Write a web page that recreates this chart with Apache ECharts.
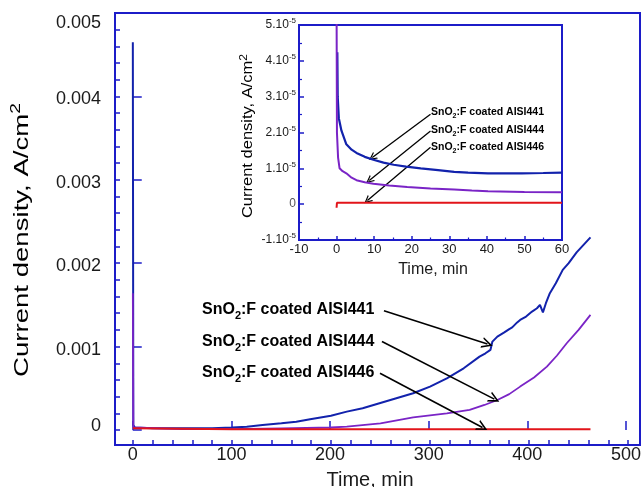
<!DOCTYPE html>
<html>
<head>
<meta charset="utf-8">
<script src="https://cdn.jsdelivr.net/npm/echarts@6/dist/echarts.min.js"></script>
<style>
  html, body { margin: 0; padding: 0; background: #fff; }
  #chart { width: 644px; height: 487px; }
</style>
</head>
<body>
<div id="chart"></div>
<script>
// Potentiostatic current transients, [time (min), current density (A/cm2)]
const main441 = [
  [0, 0.00465], [0.5, 0.00006], [2, 0.00003], [20, 0.00002], [50, 0.00002], [80, 0.00002],
  [100, 0.00003], [115, 0.00004], [131, 0.00006], [150, 0.00008], [165, 0.0001], [179, 0.00013],
  [200, 0.00017], [216, 0.00022], [232, 0.00026], [249, 0.00032], [266, 0.00038], [283, 0.00044],
  [300, 0.00052], [317, 0.00062], [334, 0.00074], [350, 0.00088], [356, 0.00092], [361, 0.00096],
  [363, 0.00106], [368, 0.00112], [375, 0.00117], [380, 0.00121], [383, 0.00123], [388, 0.00129],
  [391, 0.00132], [397, 0.00136], [403, 0.00142], [408, 0.00146], [411, 0.0015], [414, 0.00141],
  [417, 0.00152], [421, 0.00164], [427, 0.00176], [434, 0.00192], [440, 0.002], [448, 0.00213],
  [455, 0.00222], [462, 0.00231]
];
const main444 = [
  [0, 0.00164], [0.5, 0.00003], [2, 0.00001], [50, 0.00001], [100, 0.00001], [150, 0.00002],
  [200, 0.00003], [216, 0.00004], [250, 0.00008], [283, 0.00015], [317, 0.0002], [340, 0.00024],
  [355, 0.0003], [368, 0.00036], [380, 0.00043], [391, 0.00052], [405, 0.00063], [418, 0.00076],
  [428, 0.00089], [438, 0.00104], [450, 0.0012], [462, 0.00138]
];
const main446 = [
  [0, 0.00002], [100, 0.00001], [200, 0.00001], [300, 0.00001], [400, 0.00001], [462, 0.00001]
];

// First hour, enlarged
const inset441 = [
  [0.2, 4.24e-5], [0.3, 3.0e-5], [0.6, 2.4e-5], [1.3, 2.05e-5], [2.6, 1.67e-5], [4, 1.52e-5],
  [5.3, 1.43e-5], [7.5, 1.32e-5], [9.8, 1.24e-5], [12.5, 1.16e-5], [15.2, 1.1e-5], [18.5, 1.05e-5],
  [22.4, 1.0e-5], [27, 0.95e-5], [31.3, 0.9e-5], [35, 0.88e-5], [40.3, 0.86e-5], [45, 0.86e-5],
  [49.3, 0.86e-5], [55, 0.87e-5], [60, 0.88e-5]
];
const inset444 = [
  [0, 5.6e-5], [0.1, 2.0e-5], [0.4, 1.3e-5], [0.8, 1.0e-5], [1.6, 0.92e-5], [2.6, 0.86e-5],
  [4, 0.74e-5], [5.3, 0.67e-5], [7.5, 0.61e-5], [9.8, 0.57e-5], [14, 0.52e-5], [18.8, 0.48e-5],
  [25, 0.44e-5], [31.3, 0.41e-5], [36, 0.38e-5], [40.3, 0.36e-5], [50, 0.34e-5], [60, 0.33e-5]
];
const inset446 = [
  [0, -0.1e-5], [0.1, 0.04e-5], [10, 0.04e-5], [20, 0.04e-5], [30, 0.04e-5], [40, 0.04e-5],
  [50, 0.04e-5], [60, 0.04e-5]
];

// Series names / callouts
const sampleNames = ['AISI441', 'AISI444', 'AISI446'];

// Axis ticks
const mainXLabels = [0, 100, 200, 300, 400, 500];
const mainYLabels = [0, 0.001, 0.002, 0.003, 0.004, 0.005];
const mainXMinor = [];
for (let v = 0; v <= 500; v += 20) mainXMinor.push(v);
const mainYMinor = [];
for (let k = 0; k <= 25; k++) mainYMinor.push(+(k * 0.0002).toFixed(4));

// Callout arrows: [start, tip] in data units
const mainArrows = [
  [[253.5, 0.00143], [358, 0.00103]],
  [[251.5, 0.00106], [365, 0.00037]],
  [[249.5, 0.00068], [353, 0.00003]]
];
const insetArrows = [
  [[25, 2.51e-5], [9.5, 1.3e-5]],
  [[25, 2.04e-5], [8.7, 0.66e-5]],
  [[25, 1.59e-5], [8.2, 0.1e-5]]
];

const FONT = 'Liberation Sans, Arial, Helvetica, sans-serif';
const FRAME = '#1c1cc8';
const C441 = '#1222ac';
const C444 = '#7a24c6';
const C446 = '#e2141a';
const TXT = '#1a1a1a';
const OPEN_ARROW = 'path://M0,10 L5,0 L10,10 L8.4,10 L5,3.2 L1.6,10 Z';

const chart = echarts.init(document.getElementById('chart'), null, { renderer: 'canvas' });

function arrowLines(list) {
  return list.map(a => [{ coord: a[0] }, { coord: a[1] }]);
}

function calloutRich(size) {
  return {
    t: { fontFamily: FONT, fontSize: size, fontWeight: 'bold', color: TXT },
    s: { fontFamily: FONT, fontSize: Math.round(size * 0.7), fontWeight: 'bold', color: TXT, padding: [Math.round(size * 0.75), 0, 0, 0] }
  };
}

function calloutText(name) {
  return '{t|SnO}{s|2}{t|:F coated ' + name + '}';
}

function supLabel(v) {
  const n = Math.round(v / 1e-5);
  if (n === 0) return '0';
  return '{b|' + n + '.10}{p|-5}';
}

function mainYLabel(v) {
  if (Math.abs(v) < 1e-9) return '{z|0}';
  if (v > 0.0049) return '{h|' + v.toFixed(3) + '}';
  return '{n|' + v.toFixed(3) + '}';
}

const mainGrid = { left: 115, top: 13, width: 525, height: 432 };
const insetGrid = { left: 299, top: 25, width: 263, height: 215 };

const graphics = [];
// axis titles
graphics.push({
  type: 'text', x: 22, y: 240, rotation: Math.PI / 2, scaleX: 1.38, z: 10,
  style: {
    text: '{a|Current density, A/cm}{p|2}', textAlign: 'center', textVerticalAlign: 'middle',
    rich: {
      a: { fontFamily: FONT, fontSize: 20, color: TXT },
      p: { fontFamily: FONT, fontSize: 14, color: TXT, padding: [0, 0, 12, 0] }
    }
  }
});
graphics.push({
  type: 'text', x: 370, y: 480, z: 10,
  style: { text: 'Time, min', textAlign: 'center', textVerticalAlign: 'middle', fontFamily: FONT, fontSize: 20, fill: TXT }
});
graphics.push({
  type: 'text', x: 248, y: 136, rotation: Math.PI / 2, scaleX: 1.1, z: 10,
  style: {
    text: '{a|Current density, A/cm}{p|2}', textAlign: 'center', textVerticalAlign: 'middle',
    rich: {
      a: { fontFamily: FONT, fontSize: 15, color: TXT },
      p: { fontFamily: FONT, fontSize: 11, color: TXT, padding: [0, 0, 9, 0] }
    }
  }
});
graphics.push({
  type: 'text', x: 433, y: 270, z: 10,
  style: { text: 'Time, min', textAlign: 'center', textVerticalAlign: 'middle', fontFamily: FONT, fontSize: 16, fill: TXT }
});
// callouts
[310, 342, 373].forEach((y, i) => {
  graphics.push({
    type: 'text', x: 202, y: y, z: 10,
    style: { text: calloutText(sampleNames[i]), textAlign: 'left', textVerticalAlign: 'middle', rich: calloutRich(16) }
  });
});
[112, 130, 147].forEach((y, i) => {
  graphics.push({
    type: 'text', x: 431, y: y, z: 10,
    style: { text: calloutText(sampleNames[i]), textAlign: 'left', textVerticalAlign: 'middle', rich: calloutRich(10.5) }
  });
});

function lineSeries(name, data, color, width, axisIdx, extra) {
  return Object.assign({
    type: 'line', name: name, data: data, xAxisIndex: axisIdx, yAxisIndex: axisIdx,
    showSymbol: false, symbol: 'none', animation: false, silent: true, clip: true,
    lineStyle: { color: color, width: width }
  }, extra || {});
}

function arrowMark(list, size, width) {
  return {
    markLine: {
      silent: true, animation: false,
      symbol: ['none', OPEN_ARROW], symbolSize: size,
      label: { show: false },
      lineStyle: { color: '#000', width: width, type: 'solid' },
      emphasis: { disabled: true },
      data: arrowLines(list)
    }
  };
}

const option = {
  backgroundColor: '#fff',
  animation: false,
  graphic: graphics,
  grid: [
    Object.assign({ show: true, borderColor: FRAME, borderWidth: 2, backgroundColor: 'transparent', containLabel: false }, mainGrid),
    Object.assign({ show: false, containLabel: false }, mainGrid),
    Object.assign({ show: true, borderColor: FRAME, borderWidth: 2, backgroundColor: '#fff', containLabel: false, z: 3 }, insetGrid)
  ],
  xAxis: [
    {
      // minor ticks of the main time axis
      gridIndex: 0, type: 'value', min: -18, max: 512,
      axisLine: { show: true, onZero: false, lineStyle: { color: FRAME, width: 2 } },
      axisTick: { show: true, inside: true, length: 5, customValues: mainXMinor, lineStyle: { color: FRAME, width: 1.5 } },
      axisLabel: { show: false },
      splitLine: { show: false }
    },
    {
      // major ticks and labels of the main time axis
      gridIndex: 1, type: 'value', min: -18, max: 512,
      axisLine: { show: false },
      axisTick: { show: true, inside: true, length: 9, customValues: mainXLabels, lineStyle: { color: FRAME, width: 1.5 } },
      axisLabel: { show: true, customValues: mainXLabels, margin: 1, fontFamily: FONT, fontSize: 18, color: TXT },
      splitLine: { show: false }
    },
    {
      gridIndex: 2, type: 'value', min: -10, max: 60, interval: 10, z: 4,
      axisLine: { show: true, onZero: false, lineStyle: { color: FRAME, width: 2 } },
      axisTick: { show: true, inside: true, length: 4, lineStyle: { color: FRAME, width: 1.5 } },
      minorTick: { show: true, splitNumber: 2, length: 2.5, lineStyle: { color: FRAME, width: 1.2 } },
      axisLabel: { margin: 3, fontFamily: FONT, fontSize: 13, color: TXT },
      splitLine: { show: false }
    }
  ],
  yAxis: [
    {
      gridIndex: 0, type: 'value', min: -0.00018, max: 0.005,
      axisLine: { show: true, onZero: false, lineStyle: { color: FRAME, width: 2 } },
      axisTick: { show: true, inside: true, length: 5, customValues: mainYMinor, lineStyle: { color: FRAME, width: 1.5 } },
      axisLabel: { show: false },
      splitLine: { show: false }
    },
    {
      gridIndex: 1, type: 'value', min: -0.00018, max: 0.005,
      axisLine: { show: false },
      axisTick: { show: true, inside: true, length: 9, customValues: mainYLabels, lineStyle: { color: FRAME, width: 1.5 } },
      axisLabel: {
        show: true, customValues: mainYLabels, margin: 14, formatter: mainYLabel,
        rich: {
          n: { fontFamily: FONT, fontSize: 18, color: TXT, padding: [6, 0, 0, 0] },
          h: { fontFamily: FONT, fontSize: 18, color: TXT, padding: [20, 0, 0, 0] },
          z: { fontFamily: FONT, fontSize: 18, color: TXT, padding: [0, 0, 8, 0] }
        }
      },
      splitLine: { show: false }
    },
    {
      gridIndex: 2, type: 'value', min: -1e-5, max: 5e-5, interval: 1e-5, z: 4,
      axisLine: { show: true, onZero: false, lineStyle: { color: FRAME, width: 2 } },
      axisTick: { show: true, inside: true, length: 5, lineStyle: { color: FRAME, width: 1.5 } },
      minorTick: { show: true, splitNumber: 2, length: 3, lineStyle: { color: FRAME, width: 1.2 } },
      axisLabel: {
        margin: 3, formatter: supLabel,
        rich: {
          b: { fontFamily: FONT, fontSize: 12, color: TXT },
          p: { fontFamily: FONT, fontSize: 8, color: TXT, padding: [0, 0, 8, 0] }
        }
      },
      splitLine: { show: false }
    }
  ],
  series: [
    lineSeries('441', main441, C441, 2, 0, arrowMark(mainArrows, 11, 1.6)),
    lineSeries('444', main444, C444, 1.8, 0),
    lineSeries('446', main446, C446, 2, 0),
    lineSeries('441 inset', inset441, C441, 2.2, 2, Object.assign({ z: 5 }, arrowMark(insetArrows, 8, 1.3))),
    lineSeries('444 inset', inset444, C444, 2, 2, { z: 5 }),
    lineSeries('446 inset', inset446, C446, 2, 2, { z: 5 })
  ]
};

chart.setOption(option);
</script>
</body>
</html>
